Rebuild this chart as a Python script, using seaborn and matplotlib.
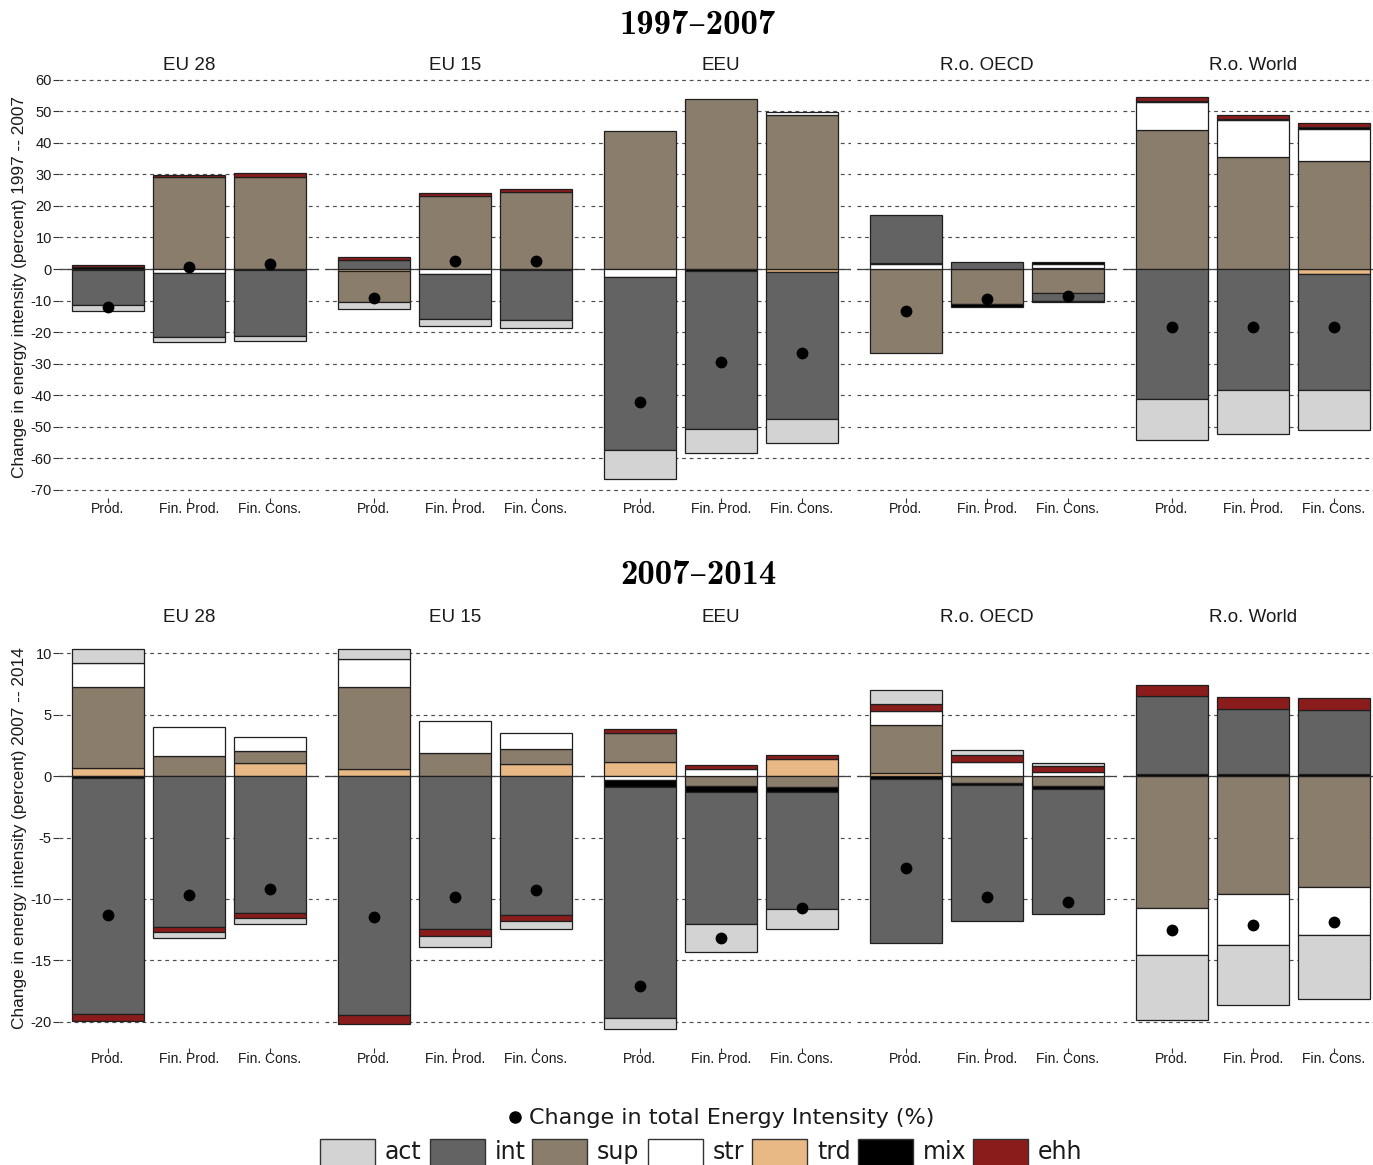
import numpy as np
import pandas as pd
import matplotlib
matplotlib.use("Agg")
import matplotlib.pyplot as plt
from matplotlib.patches import Rectangle
import seaborn as sns

# ---------------------------------------------------------------- data
regions = ["EU 28", "EU 15", "EEU", "R.o. OECD", "R.o. World"]
accounts = ["Prod.", "Fin. Prod.", "Fin. Cons."]
components = ["act", "int", "sup", "str", "trd", "mix", "ehh"]
# segments are piled outward from zero (gains upward, losses downward) in this order
stack_order = ["trd", "sup", "str", "mix", "int", "ehh", "act"]
comp_colors = {
    "act": "#D3D3D3",
    "int": "#636363",
    "sup": "#8B7D6B",
    "str": "#FFFFFF",
    "trd": "#E8B985",
    "mix": "#000000",
    "ehh": "#8B1C1C",
}

# 1997-2007: one value per region x account
# (EU 28, EU 15, EEU, R.o. OECD, R.o. World) x (Prod., Fin. Prod., Fin. Cons.)
act_9707 = [-1.8, -1.5, -1.5,   -2.4, -2.1, -2.6,   -9.2, -7.4, -7.5,   0.0, 0.0, -0.5,   -12.8, -14.2, -12.7]
int_9707 = [-11.0, -20.5, -20.9, 3.0, -14.4, -15.9, -54.9, -50.2, -46.9, 15.4, 2.2, -2.3, -41.3, -38.2, -36.7]
sup_9707 = [0.0, 29.2, 29.3,    -9.9, 23.3, 24.5,   43.6, 54.0, 48.8,   -26.5, -11.1, -7.7, 44.1, 35.5, 34.1]
str_9707 = [0.0, -1.2, 0.0,     0.0, -1.6, 0.0,     -2.4, 0.0, 1.1,     1.6, 0.0, 1.2,    8.7, 11.6, 10.4]
trd_9707 = [-0.4, 0.0, 0.0,     -0.5, 0.0, 0.0,     0.0, 0.0, -0.8,     0.0, 0.0, 0.4,    0.0, 0.0, -1.7]
mix_9707 = [0.7, 0.0, -0.3,     0.0, 0.0, -0.3,     0.0, -0.6, 0.0,     0.2, -0.8, 0.6,   0.4, 0.5, 0.4]
ehh_9707 = [0.65, 0.7, 1.0,     0.8, 0.9, 1.0,      0.0, 0.0, 0.0,      0.0, 0.0, 0.0,    1.2, 1.2, 1.5]
total_9707 = [-11.9, 0.7, 1.5,  -9.1, 2.6, 2.6,     -42.3, -29.5, -26.5, -13.3, -9.6, -8.5, -18.5, -18.5, -18.3]

# 2007-2014
act_0714 = [1.14, -0.54, -0.49, 0.81, -0.87, -0.68, -0.88, -2.23, -1.63, 1.11, 0.41, 0.25, -5.29, -4.89, -5.24]
int_0714 = [-19.27, -12.3, -11.13, -19.47, -12.49, -11.3, -18.8, -10.8, -9.56, -13.31, -11.08, -10.21, 6.38, 5.32, 5.19]
sup_0714 = [6.6, 1.6, 0.97,     6.66, 1.85, 1.23,   2.39, -0.81, -0.9,  3.96, -0.54, -0.81, -10.78, -9.61, -9.07]
str_0714 = [1.95, 2.36, 1.09,   2.28, 2.63, 1.27,   -0.35, 0.62, 0.0,   1.11, 1.14, 0.33,  -3.75, -4.13, -3.83]
trd_0714 = [0.68, 0.0, 1.09,    0.62, 0.0, 1.0,     1.14, 0.0, 1.36,    0.22, 0.0, 0.0,    0.0, 0.0, 0.0]
mix_0714 = [-0.14, 0.0, 0.0,    0.0, 0.0, 0.0,      -0.55, -0.47, -0.4, -0.27, -0.19, -0.22, 0.14, 0.16, 0.16]
ehh_0714 = [-0.55, -0.38, -0.41, -0.68, -0.54, -0.51, 0.33, 0.28, 0.35, 0.6, 0.57, 0.48,  0.92, 0.98, 1.03]
total_0714 = [-11.3, -9.67, -9.18, -11.5, -9.83, -9.29, -17.1, -13.17, -10.7, -7.47, -9.86, -10.26, -12.57, -12.14, -11.84]

periods = [
    {
        "title": "1997\u20132007",
        "ylabel": "Change in energy intensity (percent) 1997 -- 2007",
        "values": {"act": act_9707, "int": int_9707, "sup": sup_9707, "str": str_9707,
                   "trd": trd_9707, "mix": mix_9707, "ehh": ehh_9707},
        "total": total_9707,
        "ylim": (-72.5, 60.4),
        "yticks": list(range(-70, 61, 10)),
    },
    {
        "title": "2007\u20132014",
        "ylabel": "Change in energy intensity (percent) 2007 -- 2014",
        "values": {"act": act_0714, "int": int_0714, "sup": sup_0714, "str": str_0714,
                   "trd": trd_0714, "mix": mix_0714, "ehh": ehh_0714},
        "total": total_0714,
        "ylim": (-22.1, 11.9),
        "yticks": [-20, -15, -10, -5, 0, 5, 10],
    },
]


def long_table(values):
    rows = []
    for comp, vals in values.items():
        for i, v in enumerate(vals):
            rows.append({"region": regions[i // 3], "account": accounts[i % 3],
                         "component": comp, "value": v})
    return pd.DataFrame(rows)


def with_bases(df):
    """Add the starting level of every segment, stacking gains and losses apart."""
    df = df.copy()
    df["base"] = 0.0
    for (reg, acc), grp in df.groupby(["region", "account"]):
        up, down = 0.0, 0.0
        for comp in stack_order:
            idx = grp.index[grp["component"] == comp][0]
            v = df.at[idx, "value"]
            if v >= 0:
                df.at[idx, "base"] = up
                up += v
            else:
                df.at[idx, "base"] = down
                down += v
    return df


# ---------------------------------------------------------------- figure
sns.set_theme(style="white")
plt.rcParams["font.family"] = ["Liberation Sans", "DejaVu Sans"]
TXT = "#1a1a1a"

W, H = 1373, 1165
fig = plt.figure(figsize=(W / 100, H / 100), dpi=100)


def px_axes(left, top, width, height):
    return fig.add_axes([left / W, 1 - (top + height) / H, width / W, height / H])


panel_w = 259.2
panel_step = 266.0
panel_x0 = 59.4
rows_px = [(78.5, 419.2), (630.0, 417.5)]
row_text_y = [(25, 65, 287), (576, 617, 838)]

overlay = fig.add_axes([0, 0, 1, 1])
overlay.set_xlim(0, W)
overlay.set_ylim(H, 0)
overlay.axis("off")

for r, per in enumerate(periods):
    df = with_bases(long_table(per["values"]))
    tot = pd.DataFrame({"region": [regions[i // 3] for i in range(15)],
                        "account": [accounts[i % 3] for i in range(15)],
                        "total": per["total"]})
    top, height = rows_px[r]
    for k, reg in enumerate(regions):
        ax = px_axes(panel_x0 + panel_step * k, top, panel_w, height)
        pdf = df[df["region"] == reg]
        for comp in stack_order:
            sub = pdf[(pdf["component"] == comp) & (pdf["value"] != 0)].copy()
            if sub.empty:
                continue
            sub["pos"] = sub["account"].map({a: i for i, a in enumerate(accounts)})
            sub = sub.sort_values("pos")
            sns.barplot(data=sub, x="account", y="value", order=accounts,
                        color=comp_colors[comp], saturation=1, width=0.9,
                        bottom=sub["base"].to_numpy(), errorbar=None,
                        edgecolor="#1f1f1f", linewidth=0.9, zorder=2, ax=ax)
        sns.stripplot(data=tot[tot["region"] == reg], x="account", y="total",
                      order=accounts, jitter=False, color="black", size=8.5,
                      linewidth=0, zorder=5, ax=ax)

        ax.set_xlim(-0.6, 2.6)
        ax.set_ylim(*per["ylim"])
        ax.set_yticks(per["yticks"])
        ax.set_yticklabels([str(t) for t in per["yticks"]])
        ax.set_xlabel("")
        ax.set_ylabel("")
        ax.set_axisbelow(True)
        ax.grid(axis="y", linestyle=(0, (3.2, 3.2)), color="#4d4d4d", linewidth=0.85)
        ax.grid(axis="x", visible=False)
        ax.axhline(0, color="#444444", linewidth=0.9, zorder=1)
        for s in ax.spines.values():
            s.set_visible(False)
        ax.patch.set_alpha(0)
        ax.tick_params(axis="x", length=3.5, width=0.8, color="#333333", pad=-0.5,
                       labelsize=10, labelcolor=TXT, bottom=True)
        if k == 0:
            ax.tick_params(axis="y", length=4, width=0.8, color="#333333", pad=1.5,
                           labelsize=10.5, labelcolor=TXT, left=True)
        else:
            ax.tick_params(axis="y", length=0, labelleft=False)

        overlay.text(panel_x0 + panel_step * k + panel_w / 2, row_text_y[r][1], reg,
                     ha="center", va="center", fontsize=13.5, color=TXT)

    overlay.text(698, row_text_y[r][0], per["title"], ha="center", va="center",
                 fontsize=25, family=["cmb10", "DejaVu Serif"], color="black")
    overlay.text(20, row_text_y[r][2], per["ylabel"], ha="center", va="center",
                 rotation=90, fontsize=12.4, color=TXT)

# ---------------------------------------------------------------- legend
overlay.plot([515], [1117], "o", color="black", markersize=8, clip_on=False)
overlay.text(529, 1118, "Change in total Energy Intensity (%)", ha="left", va="center",
             fontsize=16, family="DejaVu Sans", color=TXT)
box_left = [320, 430, 532, 648, 752, 858, 973]
for x0, comp in zip(box_left, components):
    overlay.add_patch(Rectangle((x0, 1139), 55, 34, facecolor=comp_colors[comp],
                                edgecolor="#333333", linewidth=1.0, clip_on=False))
    overlay.text(x0 + 65, 1164, comp, ha="left", va="bottom", fontsize=17,
                 family="DejaVu Sans", color=TXT)

fig.savefig("out.png", dpi=100)
